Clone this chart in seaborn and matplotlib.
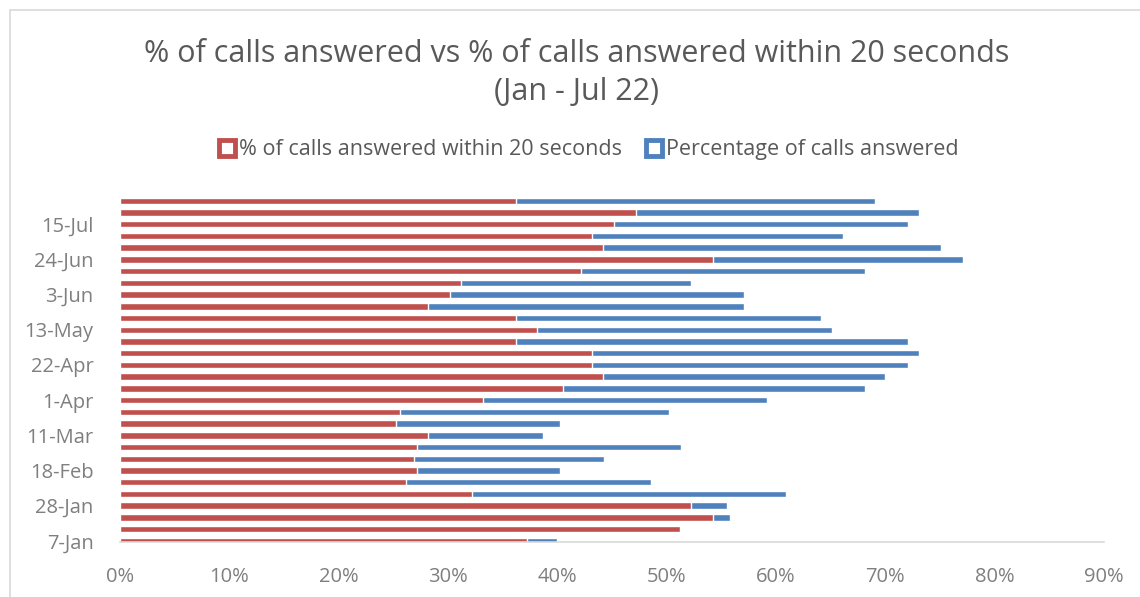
import numpy as np
import pandas as pd
import seaborn as sns
import matplotlib.pyplot as plt
from matplotlib.lines import Line2D
from matplotlib.patches import Rectangle
from matplotlib.transforms import ScaledTranslation

weeks = ["7-Jan", "14-Jan", "21-Jan", "28-Jan", "4-Feb", "11-Feb", "18-Feb", "25-Feb",
         "4-Mar", "11-Mar", "18-Mar", "25-Mar", "1-Apr", "8-Apr", "15-Apr", "22-Apr",
         "29-Apr", "6-May", "13-May", "20-May", "27-May", "3-Jun", "10-Jun", "17-Jun",
         "24-Jun", "1-Jul", "8-Jul", "15-Jul", "22-Jul", "29-Jul"]
within_20s = [37.2, 51.2, 54.2, 52.2, 32.2, 26.2, 27.2, 26.9, 27.2, 28.2,
              25.2, 25.6, 33.2, 40.5, 44.2, 43.2, 43.2, 36.2, 38.1, 36.2,
              28.2, 30.2, 31.2, 42.2, 54.2, 44.2, 43.2, 45.2, 47.2, 36.2]
answered = [40.0, 44.7, 55.8, 55.5, 60.9, 48.6, 40.2, 44.3, 51.3, 38.7,
            40.2, 50.2, 59.2, 68.1, 70.0, 72.1, 73.1, 72.1, 65.1, 64.1,
            57.1, 57.1, 52.2, 68.1, 77.1, 75.1, 66.1, 72.1, 73.1, 69.1]
shown_labels = ["7-Jan", "28-Jan", "18-Feb", "11-Mar", "1-Apr", "22-Apr",
                "13-May", "3-Jun", "24-Jun", "15-Jul"]

red = "#C0504D"
blue = "#4F81BD"
grey_text = "#595959"

df = pd.DataFrame({"Week": weeks,
                   "within": np.array(within_20s) / 100,
                   "answered": np.array(answered) / 100})
order = weeks[::-1]

sns.set_style("white")
plt.rcParams["font.family"] = ["Open Sans", "DejaVu Sans"]

fig = plt.figure(figsize=(11.4, 5.97), dpi=100)
ax = fig.add_axes([120 / 1140, 55 / 597, 984 / 1140, 350 / 597])

sns.barplot(data=df, x="answered", y="Week", order=order, color=blue,
            width=0.55, saturation=1, ax=ax)
sns.barplot(data=df, x="within", y="Week", order=order, color=red,
            width=0.55, saturation=1, ax=ax)

ax.set_xlim(0, 0.9)
ax.set_ylim(29.1, -0.75)
ax.set_xticks(np.arange(0, 0.91, 0.1))
ax.set_xticklabels([f"{int(round(v * 100))}%" for v in np.arange(0, 0.91, 0.1)])
pos = [order.index(w) for w in shown_labels]
ax.set_yticks(pos)
ax.set_yticklabels(shown_labels)
for lab in ax.get_yticklabels():
    lab.set_transform(lab.get_transform() + ScaledTranslation(0, -5 / 100, fig.dpi_scale_trans))
ax.tick_params(axis="both", length=0, labelsize=14.5, colors="#7F7F7F")
ax.tick_params(axis="x", pad=18)
ax.tick_params(axis="y", pad=19)
ax.set_xlabel("")
ax.set_ylabel("")
for s in ["top", "right", "left"]:
    ax.spines[s].set_visible(False)
ax.spines["bottom"].set_color("#D9D9D9")
ax.spines["bottom"].set_linewidth(1.2)

fig.text(0.506, 0.910, "% of calls answered vs % of calls answered within 20 seconds",
         ha="center", va="center", fontsize=22, color=grey_text)
fig.text(0.506, 0.846, "(Jan - Jul 22)", ha="center", va="center",
         fontsize=22, color=grey_text)

handles = [Line2D([], [], ls="none", marker="s", markersize=11, markerfacecolor="white",
                  markeredgecolor=red, markeredgewidth=3.5),
           Line2D([], [], ls="none", marker="s", markersize=11, markerfacecolor="white",
                  markeredgecolor=blue, markeredgewidth=3.5)]
leg = fig.legend(handles, ["% of calls answered within 20 seconds", "Percentage of calls answered"],
                 loc="center", bbox_to_anchor=(0.515, 0.749), ncol=2, frameon=False,
                 fontsize=15.5, handletextpad=0.05, columnspacing=1.0, handlelength=1)
for t in leg.get_texts():
    t.set_color(grey_text)

fig.patches.append(Rectangle((10 / 1140, -0.05), 1.2, (597 - 10) / 597 + 0.05,
                             transform=fig.transFigure, fill=False,
                             edgecolor="#D9D9D9", linewidth=1.2))

fig.savefig("out.png", dpi=100)
